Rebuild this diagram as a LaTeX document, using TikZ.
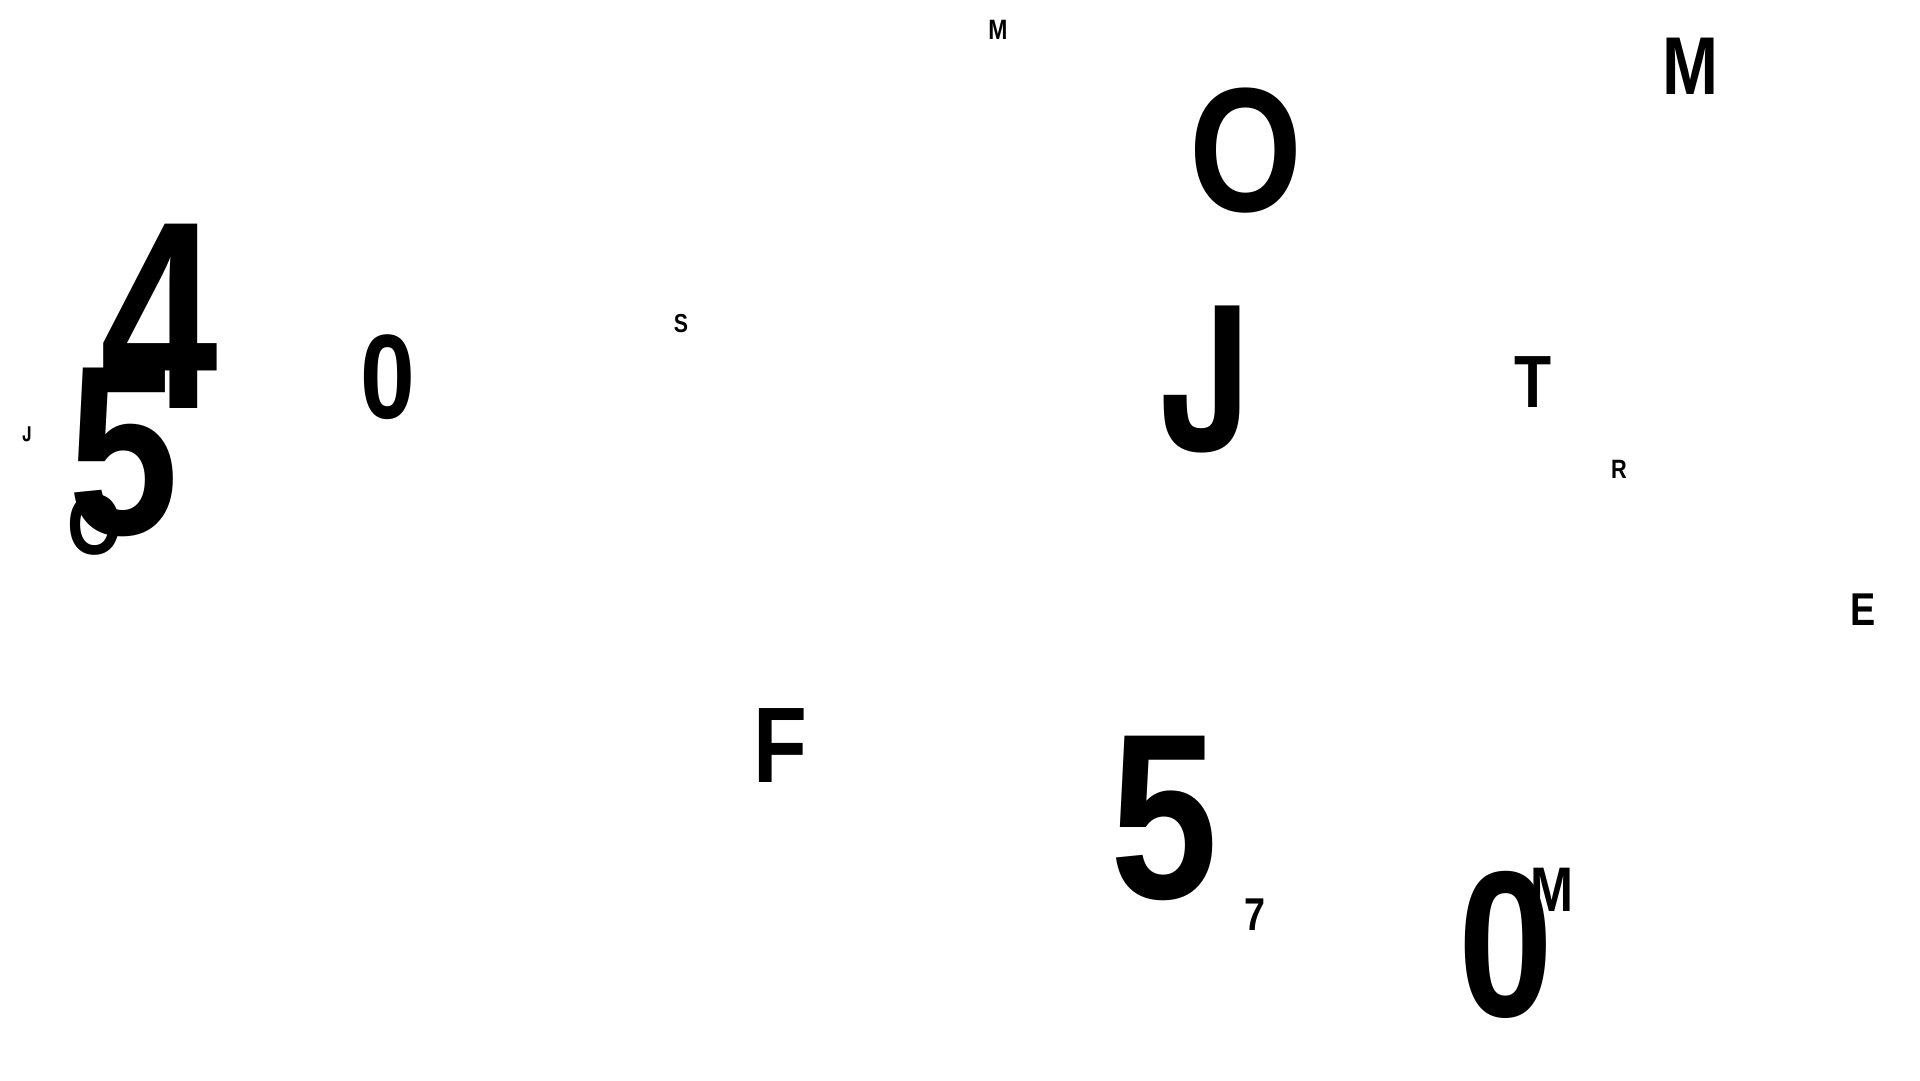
\documentclass[tikz,border=0pt]{standalone}
\usepackage{fontspec}
\newfontfamily\nar{Liberation Sans}[FakeStretch=0.82]
\newfontfamily\narf{Liberation Sans}[FakeStretch=0.79]
\newfontfamily\narj{TeX Gyre Heros Cn}
\tikzset{
  glyph/.style={inner sep=0pt, outer sep=0pt, text=black, font={\nar\bfseries\fontsize{#1}{#1}\selectfont}},
  glyphf/.style={inner sep=0pt, outer sep=0pt, text=black, font={\narf\bfseries\fontsize{#1}{#1}\selectfont}},
  glyphj/.style={inner sep=0pt, outer sep=0pt, text=black, font={\narj\bfseries\fontsize{#1}{#1}\selectfont}}
}
\begin{document}
\begin{tikzpicture}[x=1pt,y=-1pt]
\fill[white] (0,0) rectangle (1920,1080);
\useasboundingbox (0,0) rectangle (1920,1080);
\node[glyph=28] (m1) at (998,30) {M};
\node[glyph=177] (o1) at (1246,151) {O};
\node[glyph=82] (m2) at (1690,66.5) {M};
\node[glyphf=268] (d4) at (159.5,316) {4};
\node[glyph=120] (z1) at (387.5,377) {0};
\node[glyph=26] (s1) at (681,323.5) {S};
\node[glyphj=20.5] (j1) at (27,434) {J};
\node[glyph=242] (f1) at (124,452) {5};
\node[glyph=86] (o2) at (94.5,524.5) {O};
\node[glyphj=200] (j2) at (1206.5,379) {J};
\node[glyph=74] (t1) at (1533.5,382) {T};
\node[glyph=26.5] (r1) at (1619,469.5) {R};
\node[glyph=46] (e1) at (1863,609.5) {E};
\node[glyph=107.5] (ff) at (780,745.5) {F};
\node[glyph=236] (f2) at (1164,818) {5};
\node[glyph=46] (s7) at (1254.5,914.5) {7};
\node[glyph=208] (z2) at (1505.5,945) {0};
\node[glyph=63] (m3) at (1551.5,889.5) {M};
\end{tikzpicture}
\end{document}
